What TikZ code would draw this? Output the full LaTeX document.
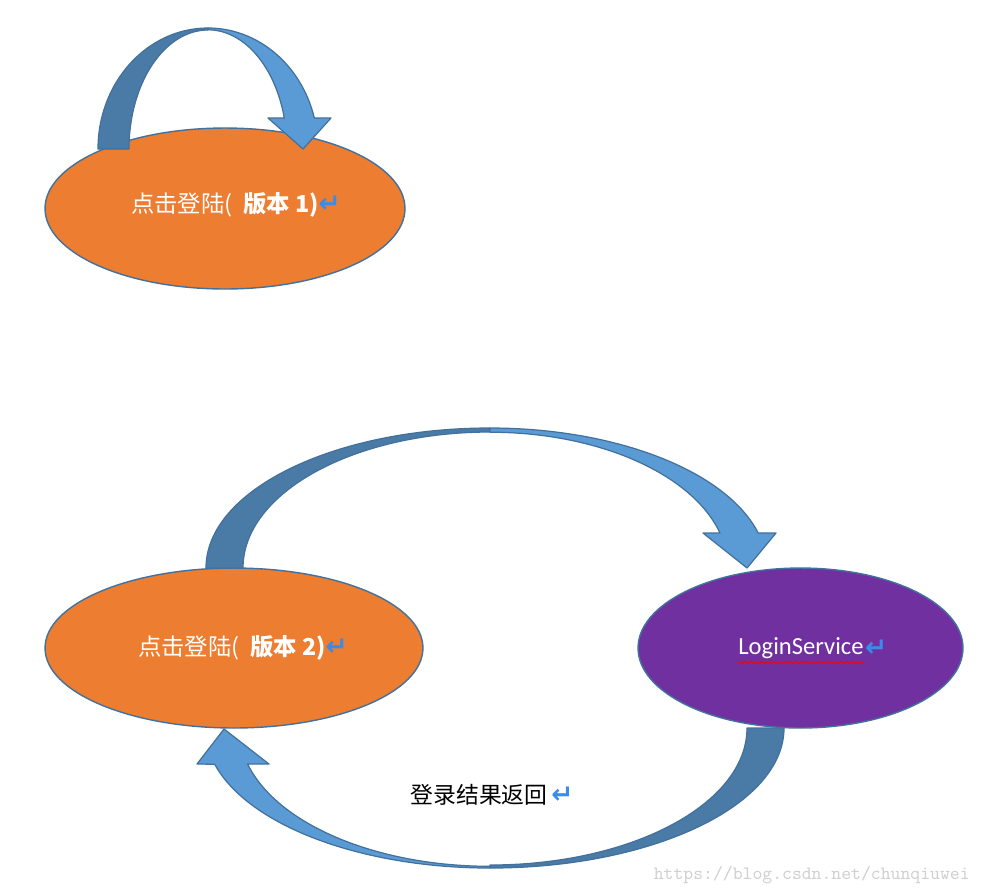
\documentclass[tikz,border=0pt]{standalone}
\usepackage{fontspec}
\setmainfont{Carlito}
\newfontfamily\cjk{Noto Sans CJK SC}
\newfontfamily\symb{DejaVu Sans}
\usepackage{xcolor}
\usepackage{tikz}
\usetikzlibrary{shapes.geometric,positioning,decorations.pathmorphing}
\definecolor{ovalorange}{HTML}{ED7D31}
\definecolor{ovalpurple}{HTML}{7030A0}
\definecolor{ovaledge}{HTML}{41719C}
\definecolor{arrowdark}{HTML}{4A7BA6}
\definecolor{arrowlight}{HTML}{5B9BD5}
\definecolor{markblue}{HTML}{3A8CE8}
\definecolor{wmgray}{HTML}{D0D0D0}
\newcommand{\parmark}{{\symb\bfseries\fontsize{15}{15}\selectfont\color{markblue}↵}}
\tikzset{
  oval/.style={ellipse,draw=ovaledge,line width=0.8pt,inner sep=0pt},
  ovaltext/.style={text=white,font=\cjk\fontsize{13.3}{15}\selectfont,inner sep=0pt},
  plaintext/.style={text=black,font=\cjk\fontsize{13}{15}\selectfont,inner sep=0pt},
  arrowback/.style={fill=arrowdark,draw=ovaledge,line width=0.7pt,line join=round},
  arrowfront/.style={fill=arrowlight,draw=ovaledge,line width=0.7pt,line join=round},
  spellline/.style={draw=red,line width=0.6pt,decorate,
    decoration={snake,amplitude=0.7pt,segment length=3.2pt}}
}
\begin{document}
\begin{tikzpicture}[x=0.02cm,y=-0.02cm]
\useasboundingbox[fill=white] (0,0) rectangle (982,894);
% ovals
\node[oval,fill=ovalorange,minimum width=7.2cm,minimum height=3.22cm] (click1) at (225,208.5) {};
\node[oval,fill=ovalorange,minimum width=7.56cm,minimum height=3.2cm] (click2) at (234,648) {};
\node[oval,fill=ovalpurple,minimum width=6.5cm,minimum height=3.2cm] (login) at (800.5,648) {};
% loop arrow on version 1
\draw[arrowback] (98,149) arc[start angle=180,end angle=270,x radius=110,y radius=121]
  -- (208,30) arc[start angle=270,end angle=180,x radius=79,y radius=119] -- cycle;
\draw[arrowfront] (208,28) arc[start angle=270,end angle=345.2,x radius=110,y radius=121]
  -- (331,118) -- (303,149) -- (268,118) -- (284.3,118)
  arc[start angle=345,end angle=270,x radius=79,y radius=119] -- cycle;
% click -> LoginService
\draw[arrowback] (206,568) arc[start angle=180,end angle=270,x radius=284,y radius=140]
  -- (490,432) arc[start angle=270,end angle=180,x radius=247,y radius=136] -- cycle;
\draw[arrowfront] (490,428) arc[start angle=270,end angle=345.5,x radius=277,y radius=140]
  -- (776,533) -- (747,568) -- (703,533) -- (720,533)
  arc[start angle=345,end angle=270,x radius=238,y radius=136] -- cycle;
% LoginService -> click (result)
\draw[arrowback] (784,728) arc[start angle=0,end angle=90,x radius=294,y radius=140]
  -- (490,865) arc[start angle=90,end angle=0,x radius=257,y radius=137] -- cycle;
\draw[arrowfront] (490,868) arc[start angle=90,end angle=165,x radius=285,y radius=140]
  -- (197,764) -- (224,729) -- (269,764) -- (247.6,764)
  arc[start angle=165,end angle=90,x radius=251,y radius=138] -- cycle;
% texts
\node[ovaltext] (click1txt) at (236,205) {点击登陆(\ \ {\bfseries 版本 1)}\parmark};
\node[ovaltext] (click2txt) at (243,648) {点击登陆(\ \ {\bfseries 版本 2)}\parmark};
\node[inner sep=0pt,text=white,font=\fontsize{14}{16}\selectfont] (loginname) at (801,648) {LoginService};
\node[inner sep=0pt,right=0.5pt of loginname] (loginmark) {\parmark};
\draw[spellline] ([yshift=-2pt]loginname.south west) -- ([yshift=-2pt]loginname.south east);
\node[plaintext] (resulttxt) at (492,795) {登录结果返回\,\parmark};
\node[text=wmgray,font=\ttfamily\fontsize{10.7}{12}\selectfont,inner sep=0pt,anchor=east] (mark) at (970,875) {https://blog.csdn.net/chunqiuwei};
\end{tikzpicture}
\end{document}
